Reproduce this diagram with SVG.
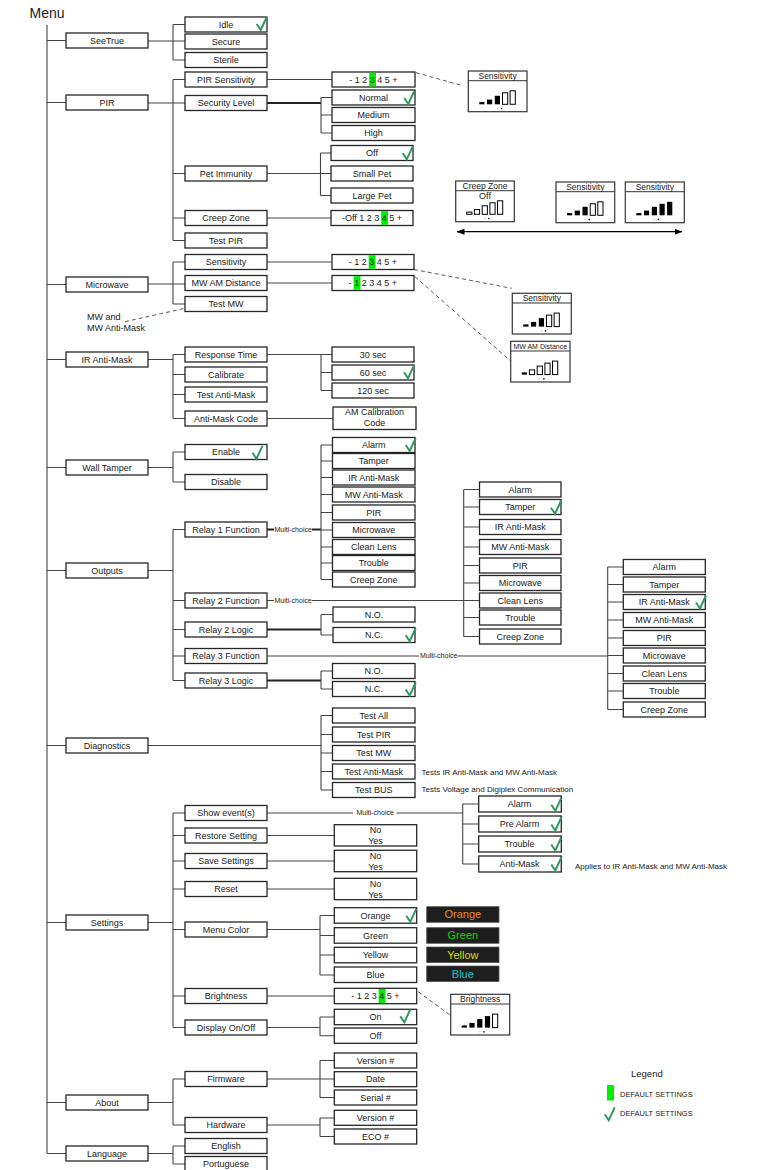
<svg xmlns="http://www.w3.org/2000/svg" xmlns:xlink="http://www.w3.org/1999/xlink" width="758" height="1170" viewBox="0 0 758 1170">
<style>
.b{fill:#fff;stroke:#262626;stroke-width:1.3}
.t{font-family:"Liberation Sans",Arial,sans-serif;font-size:9px;fill:#222;text-anchor:middle}
.s{font-family:"Liberation Sans",Arial,sans-serif;fill:#222}
.c{stroke:#444;stroke-width:1.1;fill:none}
.k{stroke:#222;stroke-width:1.8;fill:none}
.d{stroke:#333;stroke-width:0.8;fill:none;stroke-dasharray:4 3}
.ck{stroke:#2e9a5c;stroke-width:2;fill:none;stroke-linejoin:miter}
.hl{fill:#00ee00}
.pb{fill:#fff;stroke:#333;stroke-width:1.2}
.pl{stroke:#333;stroke-width:1}
.pt{font-family:"Liberation Sans",Arial,sans-serif;font-size:8.5px;fill:#222;text-anchor:middle}
.pts{font-family:"Liberation Sans",Arial,sans-serif;font-size:7px;fill:#222;text-anchor:middle}
.f{fill:#000}
.o{fill:#fff;stroke:#000;stroke-width:1}
.dg{fill:#bbb}
.dk{fill:#000}
.sw{fill:#1e1e1e;stroke:#555;stroke-width:0.8}
.swt{font-family:"Liberation Sans",Arial,sans-serif;font-size:11px;text-anchor:middle}
</style>
<defs>
<path id="chk" d="M0,7 L4,13 L10,0"/>
<marker id="ah" markerWidth="8" markerHeight="6" refX="7.5" refY="3" orient="auto-start-reverse" markerUnits="userSpaceOnUse">
<path d="M0,0 L8,3 L0,6 z" fill="#000"/>
</marker>
</defs>

<text class="s" x="29.5" y="18" font-size="14">Menu</text>

<g id="connectors">
<path class="c" d="M47,25 V1153.5 M47,40.5 H66 M47,102.5 H66 M47,284.5 H66 M47,359.5 H66 M47,467.5 H66 M47,570.5 H66 M47,745.5 H66 M47,922.5 H66 M47,1102.5 H66 M47,1153.5 H66"/>
<path class="c" d="M148,41 H185 M173,24.5 V60 M173,24.5 H185 M173,60 H185"/>
<path class="c" d="M148,103 H185 M173,79.5 V240.5 M173,79.5 H185 M173,173.5 H185 M173,218 H185 M173,240.5 H185"/>
<path class="c" d="M148,284 H185 M173,262 V304 M173,262 H185 M173,304 H185"/>
<path class="c" d="M148,359.5 H173 M173,354.5 V418.5 M173,354.5 H185 M173,374.5 H185 M173,394.5 H185 M173,418.5 H185"/>
<path class="c" d="M148,467.5 H173 M173,452 V482 M173,452 H185 M173,482 H185"/>
<path class="c" d="M148,570.5 H173 M173,529.5 V680.5 M173,529.5 H185 M173,600.5 H185 M173,629.5 H185 M173,656 H185 M173,680.5 H185"/>
<path class="c" d="M148,745.5 H321 M321,715.5 V790 M321,715.5 H332.5 M321,734.5 H332.5 M321,753 H332.5 M321,771.5 H332.5 M321,790 H332.5"/>
<path class="c" d="M148,922.5 H173 M173,813 V1027.5 M173,813 H185 M173,835.5 H185 M173,861 H185 M173,889 H185 M173,929.5 H185 M173,996 H185 M173,1027.5 H185"/>
<path class="c" d="M148,1102.5 H173 M173,1079 V1125 M173,1079 H185 M173,1125 H185"/>
<path class="c" d="M148,1153.5 H173 M173,1146 V1164 M173,1146 H185 M173,1164 H185"/>
<path class="c" d="M267,79.5 H332"/>
<path class="k" d="M267,103 H321"/>
<path class="c" d="M321,97.5 V133 M321,97.5 H332 M321,115 H332 M321,133 H332"/>
<path class="c" d="M267,173.5 H331 M320.5,153 V195.5 M320.5,153 H331 M320.5,195.5 H331"/>
<path class="c" d="M267,218 H331 M267,262 H332 M267,283 H332"/>
<path class="c" d="M267,354.5 H321 M321,354.5 V390.5 M321,372.5 H332 M321,390.5 H332 M321,354.5 H332"/>
<path class="c" d="M267,418.5 H333"/>
<path class="k" d="M267,529.5 H274 M312,529.5 H321"/>
<path class="c" d="M321,445 V579.5 M321,445 H332.5 M321,461 H332.5 M321,477.5 H332.5 M321,494.5 H332.5 M321,512.5 H332.5 M321,530 H332.5 M321,547 H332.5 M321,563 H332.5 M321,579.5 H332.5"/>
<path class="c" d="M267,600.5 H274 M312,600.5 H463.7 M463.7,489.5 V636.5 M463.7,489.5 H479.5 M463.7,507 H479.5 M463.7,527 H479.5 M463.7,547 H479.5 M463.7,565.5 H479.5 M463.7,583 H479.5 M463.7,600.5 H479.5 M463.7,617.5 H479.5 M463.7,636.5 H479.5"/>
<path class="k" d="M267,629.5 H321"/>
<path class="c" d="M321,614.5 V635 M321,614.5 H333 M321,635 H333"/>
<path class="c" d="M267,656 H419 M457.5,656 H607.7 M607.7,567 V709.5 M607.7,567 H623.3 M607.7,584.5 H623.3 M607.7,602 H623.3 M607.7,620 H623.3 M607.7,638 H623.3 M607.7,655.5 H623.3 M607.7,673.5 H623.3 M607.7,691 H623.3 M607.7,709.5 H623.3"/>
<path class="k" d="M267,680.5 H321"/>
<path class="c" d="M321,671 V689 M321,671 H332.5 M321,689 H332.5"/>
<path class="c" d="M267,813 H353 M396.5,813 H462.7 M462.7,804 V864 M462.7,804 H478.7 M462.7,824 H478.7 M462.7,844 H478.7 M462.7,864 H478.7"/>
<path class="c" d="M267,835.5 H334.3 M267,861 H334.3 M267,889 H334.3"/>
<path class="c" d="M267,929.5 H320 M320,915.5 V975 M320,915.5 H334.3 M320,935.5 H334.3 M320,955 H334.3 M320,975 H334.3"/>
<path class="c" d="M267,996 H334.3"/>
<path class="c" d="M267,1027.5 H320 M320,1017 V1035.7 M320,1017 H334.3 M320,1035.7 H334.3"/>
<path class="c" d="M267,1079 H334.3 M320,1060.5 V1097.5 M320,1060.5 H334.3 M320,1097.5 H334.3"/>
<path class="c" d="M267,1125 H320 M320,1118 V1136.5 M320,1118 H334.3 M320,1136.5 H334.3"/>
<text class="s" x="274.5" y="531.5" font-size="7">Multi-choice</text>
<text class="s" x="274.5" y="602.5" font-size="7">Multi-choice</text>
<text class="s" x="420" y="658" font-size="7">Multi-choice</text>
<text class="s" x="356.5" y="815" font-size="7">Multi-choice</text>
<path class="d" d="M416,72.7 L462.7,85.7"/>
<path class="d" d="M414,269.5 L511.7,288.3"/>
<path class="d" d="M415,276.7 L510.3,360.7"/>
<path class="d" d="M125,321.7 L184,308.5"/>
<path class="d" d="M418.3,991.7 L450,1015"/>
<path d="M457,231.7 H682" stroke="#000" stroke-width="1.2" marker-start="url(#ah)" marker-end="url(#ah)"/>
</g>

<g id="n-seetrue"><rect class="b" x="66" y="33" width="82" height="15"/><text class="t" x="107" y="43.7">SeeTrue</text></g>
<g id="n-pir"><rect class="b" x="66" y="95" width="82" height="15"/><text class="t" x="107" y="105.7">PIR</text></g>
<g id="n-microwave"><rect class="b" x="66" y="277" width="82" height="15"/><text class="t" x="107" y="287.7">Microwave</text></g>
<g id="n-iram"><rect class="b" x="66" y="352" width="82" height="15"/><text class="t" x="107" y="362.7">IR Anti-Mask</text></g>
<g id="n-walltamper"><rect class="b" x="66" y="460" width="82" height="15"/><text class="t" x="107" y="470.7">Wall Tamper</text></g>
<g id="n-outputs"><rect class="b" x="66" y="563" width="82" height="15"/><text class="t" x="107" y="573.7">Outputs</text></g>
<g id="n-diagnostics"><rect class="b" x="66" y="738" width="82" height="15"/><text class="t" x="107" y="748.7">Diagnostics</text></g>
<g id="n-settings"><rect class="b" x="66" y="915" width="82" height="15"/><text class="t" x="107" y="925.7">Settings</text></g>
<g id="n-about"><rect class="b" x="66" y="1095" width="82" height="15"/><text class="t" x="107" y="1105.7">About</text></g>
<g id="n-language"><rect class="b" x="66" y="1146" width="82" height="15"/><text class="t" x="107" y="1156.7">Language</text></g>

<g id="n-idle"><rect class="b" x="185" y="17" width="82" height="15"/><text class="t" x="226" y="27.7">Idle</text></g>
<g id="n-secure"><rect class="b" x="185" y="34" width="82" height="15"/><text class="t" x="226" y="44.7">Secure</text></g>
<g id="n-sterile"><rect class="b" x="185" y="52.5" width="82" height="15"/><text class="t" x="226" y="63.2">Sterile</text></g>
<g id="n-pirsens"><rect class="b" x="185" y="72" width="82" height="15"/><text class="t" x="226" y="82.7">PIR Sensitivity</text></g>
<g id="n-seclevel"><rect class="b" x="185" y="95.5" width="82" height="15"/><text class="t" x="226" y="106.2">Security Level</text></g>
<g id="n-petimm"><rect class="b" x="185" y="166" width="82" height="15"/><text class="t" x="226" y="176.7">Pet Immunity</text></g>
<g id="n-creepzone"><rect class="b" x="185" y="210.5" width="82" height="15"/><text class="t" x="226" y="221.2">Creep Zone</text></g>
<g id="n-testpir"><rect class="b" x="185" y="233" width="82" height="15"/><text class="t" x="226" y="243.7">Test PIR</text></g>
<g id="n-mwsens"><rect class="b" x="185" y="254.5" width="82" height="15"/><text class="t" x="226" y="265.2">Sensitivity</text></g>
<g id="n-mwam"><rect class="b" x="185" y="275.5" width="82" height="15"/><text class="t" x="226" y="286.2">MW AM Distance</text></g>
<g id="n-testmw"><rect class="b" x="185" y="296.5" width="82" height="15"/><text class="t" x="226" y="307.2">Test MW</text></g>
<g id="n-resptime"><rect class="b" x="185" y="347" width="82" height="15"/><text class="t" x="226" y="357.7">Response Time</text></g>
<g id="n-calibrate"><rect class="b" x="185" y="367" width="82" height="15"/><text class="t" x="226" y="377.7">Calibrate</text></g>
<g id="n-testam"><rect class="b" x="185" y="387" width="82" height="15"/><text class="t" x="226" y="397.7">Test Anti-Mask</text></g>
<g id="n-amcode"><rect class="b" x="185" y="411" width="82" height="15"/><text class="t" x="226" y="421.7">Anti-Mask Code</text></g>
<g id="n-enable"><rect class="b" x="185" y="444.5" width="82" height="15"/><text class="t" x="226" y="455.2">Enable</text></g>
<g id="n-disable"><rect class="b" x="185" y="474.5" width="82" height="15"/><text class="t" x="226" y="485.2">Disable</text></g>
<g id="n-r1f"><rect class="b" x="185" y="522" width="82" height="15"/><text class="t" x="226" y="532.7">Relay 1 Function</text></g>
<g id="n-r2f"><rect class="b" x="185" y="593" width="82" height="15"/><text class="t" x="226" y="603.7">Relay 2 Function</text></g>
<g id="n-r2l"><rect class="b" x="185" y="622" width="82" height="15"/><text class="t" x="226" y="632.7">Relay 2 Logic</text></g>
<g id="n-r3f"><rect class="b" x="185" y="648.5" width="82" height="15"/><text class="t" x="226" y="659.2">Relay 3 Function</text></g>
<g id="n-r3l"><rect class="b" x="185" y="673" width="82" height="15"/><text class="t" x="226" y="683.7">Relay 3 Logic</text></g>
<g id="n-showev"><rect class="b" x="185" y="805.5" width="82" height="15"/><text class="t" x="226" y="816.2">Show event(s)</text></g>
<g id="n-restore"><rect class="b" x="185" y="828" width="82" height="15"/><text class="t" x="226" y="838.7">Restore Setting</text></g>
<g id="n-save"><rect class="b" x="185" y="853.5" width="82" height="15"/><text class="t" x="226" y="864.2">Save Settings</text></g>
<g id="n-reset"><rect class="b" x="185" y="881.5" width="82" height="15"/><text class="t" x="226" y="892.2">Reset</text></g>
<g id="n-menucolor"><rect class="b" x="185" y="922" width="82" height="15"/><text class="t" x="226" y="932.7">Menu Color</text></g>
<g id="n-brightness"><rect class="b" x="185" y="988.5" width="82" height="15"/><text class="t" x="226" y="999.2">Brightness</text></g>
<g id="n-display"><rect class="b" x="185" y="1020" width="82" height="15"/><text class="t" x="226" y="1030.7">Display On/Off</text></g>
<g id="n-firmware"><rect class="b" x="185" y="1071.5" width="82" height="15"/><text class="t" x="226" y="1082.2">Firmware</text></g>
<g id="n-hardware"><rect class="b" x="185" y="1117.5" width="82" height="15"/><text class="t" x="226" y="1128.2">Hardware</text></g>
<g id="n-english"><rect class="b" x="185" y="1138.5" width="82" height="15"/><text class="t" x="226" y="1149.2">English</text></g>
<g id="n-portuguese"><rect class="b" x="185" y="1156.5" width="82" height="15"/><text class="t" x="226" y="1167.2">Portuguese</text></g>

<g id="n-pirsens-val"><rect class="b" x="332" y="72" width="83" height="15"/><rect class="hl" x="369.2" y="72.7" width="6.8" height="13.6"/><text class="t" x="373.5" y="82.7">- 1 2 3 4 5 +</text></g>
<g id="n-normal"><rect class="b" x="332" y="90" width="83" height="15"/><text class="t" x="373.5" y="100.7">Normal</text></g>
<g id="n-medium"><rect class="b" x="332" y="107.5" width="83" height="15"/><text class="t" x="373.5" y="118.2">Medium</text></g>
<g id="n-high"><rect class="b" x="332" y="125.5" width="83" height="15"/><text class="t" x="373.5" y="136.2">High</text></g>
<g id="n-petoff"><rect class="b" x="331" y="145.5" width="82" height="15"/><text class="t" x="372" y="156.2">Off</text></g>
<g id="n-smallpet"><rect class="b" x="331" y="166" width="82" height="15"/><text class="t" x="372" y="176.7">Small Pet</text></g>
<g id="n-largepet"><rect class="b" x="331" y="188" width="82" height="15"/><text class="t" x="372" y="198.7">Large Pet</text></g>
<g id="n-creep-val"><rect class="b" x="331" y="210.5" width="82" height="15"/><rect class="hl" x="381.2" y="211.2" width="6.8" height="13.6"/><text class="t" x="372" y="221.2">-Off 1 2 3 4 5 +</text></g>
<g id="n-mwsens-val"><rect class="b" x="332" y="254.5" width="82" height="15"/><rect class="hl" x="368.7" y="255.2" width="6.8" height="13.6"/><text class="t" x="373" y="265.2">- 1 2 3 4 5 +</text></g>
<g id="n-mwam-val"><rect class="b" x="332" y="275.5" width="82" height="15"/><rect class="hl" x="353.7" y="276.2" width="6.8" height="13.6"/><text class="t" x="373" y="286.2">- 1 2 3 4 5 +</text></g>
<text class="s" x="87" y="320" font-size="9">MW and</text>
<text class="s" x="87" y="331" font-size="9">MW Anti-Mask</text>
<g id="n-30s"><rect class="b" x="332" y="347" width="82" height="15"/><text class="t" x="373" y="357.7">30 sec</text></g>
<g id="n-60s"><rect class="b" x="332" y="365" width="82" height="15"/><text class="t" x="373" y="375.7">60 sec</text></g>
<g id="n-120s"><rect class="b" x="332" y="383" width="82" height="15"/><text class="t" x="373" y="393.7">120 sec</text></g>
<g id="n-amcal"><rect class="b" x="333" y="407" width="83" height="22.5"/><text class="t" x="374.5" y="415.3">AM Calibration</text><text class="t" x="374.5" y="426">Code</text></g>
<g id="n-r1-alarm"><rect class="b" x="332.5" y="437.5" width="82.5" height="15"/><text class="t" x="373.75" y="448.2">Alarm</text></g>
<g id="n-r1-tamper"><rect class="b" x="332.5" y="453.5" width="82.5" height="15"/><text class="t" x="373.75" y="464.2">Tamper</text></g>
<g id="n-r1-iram"><rect class="b" x="332.5" y="470" width="82.5" height="15"/><text class="t" x="373.75" y="480.7">IR Anti-Mask</text></g>
<g id="n-r1-mwam"><rect class="b" x="332.5" y="487" width="82.5" height="15"/><text class="t" x="373.75" y="497.7">MW Anti-Mask</text></g>
<g id="n-r1-pir"><rect class="b" x="332.5" y="505" width="82.5" height="15"/><text class="t" x="373.75" y="515.7">PIR</text></g>
<g id="n-r1-mw"><rect class="b" x="332.5" y="522.5" width="82.5" height="15"/><text class="t" x="373.75" y="533.2">Microwave</text></g>
<g id="n-r1-clean"><rect class="b" x="332.5" y="539.5" width="82.5" height="15"/><text class="t" x="373.75" y="550.2">Clean Lens</text></g>
<g id="n-r1-trouble"><rect class="b" x="332.5" y="555.5" width="82.5" height="15"/><text class="t" x="373.75" y="566.2">Trouble</text></g>
<g id="n-r1-creep"><rect class="b" x="332.5" y="572" width="82.5" height="15"/><text class="t" x="373.75" y="582.7">Creep Zone</text></g>
<g id="n-r2-alarm"><rect class="b" x="479.5" y="482" width="81.5" height="15"/><text class="t" x="520.25" y="492.7">Alarm</text></g>
<g id="n-r2-tamper"><rect class="b" x="479.5" y="499.5" width="81.5" height="15"/><text class="t" x="520.25" y="510.2">Tamper</text></g>
<g id="n-r2-iram"><rect class="b" x="479.5" y="519.5" width="81.5" height="15"/><text class="t" x="520.25" y="530.2">IR Anti-Mask</text></g>
<g id="n-r2-mwam"><rect class="b" x="479.5" y="539.5" width="81.5" height="15"/><text class="t" x="520.25" y="550.2">MW Anti-Mask</text></g>
<g id="n-r2-pir"><rect class="b" x="479.5" y="558" width="81.5" height="15"/><text class="t" x="520.25" y="568.7">PIR</text></g>
<g id="n-r2-mw"><rect class="b" x="479.5" y="575.5" width="81.5" height="15"/><text class="t" x="520.25" y="586.2">Microwave</text></g>
<g id="n-r2-clean"><rect class="b" x="479.5" y="593" width="81.5" height="15"/><text class="t" x="520.25" y="603.7">Clean Lens</text></g>
<g id="n-r2-trouble"><rect class="b" x="479.5" y="610" width="81.5" height="15"/><text class="t" x="520.25" y="620.7">Trouble</text></g>
<g id="n-r2-creep"><rect class="b" x="479.5" y="629" width="81.5" height="15"/><text class="t" x="520.25" y="639.7">Creep Zone</text></g>
<g id="n-r2-no"><rect class="b" x="333" y="607" width="82" height="15"/><text class="t" x="374" y="617.7">N.O.</text></g>
<g id="n-r2-nc"><rect class="b" x="333" y="627.5" width="82" height="15"/><text class="t" x="374" y="638.2">N.C.</text></g>
<g id="n-r3-alarm"><rect class="b" x="623.3" y="559.5" width="82" height="15"/><text class="t" x="664.3" y="570.2">Alarm</text></g>
<g id="n-r3-tamper"><rect class="b" x="623.3" y="577" width="82" height="15"/><text class="t" x="664.3" y="587.7">Tamper</text></g>
<g id="n-r3-iram"><rect class="b" x="623.3" y="594.5" width="82" height="15"/><text class="t" x="664.3" y="605.2">IR Anti-Mask</text></g>
<g id="n-r3-mwam"><rect class="b" x="623.3" y="612.5" width="82" height="15"/><text class="t" x="664.3" y="623.2">MW Anti-Mask</text></g>
<g id="n-r3-pir"><rect class="b" x="623.3" y="630.5" width="82" height="15"/><text class="t" x="664.3" y="641.2">PIR</text></g>
<g id="n-r3-mw"><rect class="b" x="623.3" y="648" width="82" height="15"/><text class="t" x="664.3" y="658.7">Microwave</text></g>
<g id="n-r3-clean"><rect class="b" x="623.3" y="666" width="82" height="15"/><text class="t" x="664.3" y="676.7">Clean Lens</text></g>
<g id="n-r3-trouble"><rect class="b" x="623.3" y="683.5" width="82" height="15"/><text class="t" x="664.3" y="694.2">Trouble</text></g>
<g id="n-r3-creep"><rect class="b" x="623.3" y="702" width="82" height="15"/><text class="t" x="664.3" y="712.7">Creep Zone</text></g>
<g id="n-r3-no"><rect class="b" x="332.5" y="663.5" width="82.5" height="15"/><text class="t" x="373.75" y="674.2">N.O.</text></g>
<g id="n-r3-nc"><rect class="b" x="332.5" y="681.5" width="82.5" height="15"/><text class="t" x="373.75" y="692.2">N.C.</text></g>
<g id="n-testall"><rect class="b" x="332.5" y="708" width="82.5" height="15"/><text class="t" x="373.75" y="718.7">Test All</text></g>
<g id="n-dtestpir"><rect class="b" x="332.5" y="727" width="82.5" height="15"/><text class="t" x="373.75" y="737.7">Test PIR</text></g>
<g id="n-dtestmw"><rect class="b" x="332.5" y="745.5" width="82.5" height="15"/><text class="t" x="373.75" y="756.2">Test MW</text></g>
<g id="n-dtestam"><rect class="b" x="332.5" y="764" width="82.5" height="15"/><text class="t" x="373.75" y="774.7">Test Anti-Mask</text></g>
<g id="n-dtestbus"><rect class="b" x="332.5" y="782.5" width="82.5" height="15"/><text class="t" x="373.75" y="793.2">Test BUS</text></g>
<text class="s" x="421.5" y="774.5" font-size="8">Tests IR Anti-Mask and MW Anti-Mask</text>
<text class="s" x="421.5" y="792" font-size="8">Tests Voltage and Digiplex Communication</text>
<g id="n-ev-alarm"><rect class="b" x="478.7" y="796" width="82.6" height="16"/><text class="t" x="519.5" y="807.2">Alarm</text></g>
<g id="n-ev-prealarm"><rect class="b" x="478.7" y="816" width="82.6" height="16"/><text class="t" x="519.5" y="827.2">Pre Alarm</text></g>
<g id="n-ev-trouble"><rect class="b" x="478.7" y="836" width="82.6" height="16"/><text class="t" x="519.5" y="847.2">Trouble</text></g>
<g id="n-ev-am"><rect class="b" x="478.7" y="856" width="82.6" height="16"/><text class="t" x="519.5" y="867.2">Anti-Mask</text></g>
<text class="s" x="575" y="869" font-size="8">Applies to IR Anti-Mask and MW Anti-Mask</text>
<g id="n-restore-val"><rect class="b" x="334.3" y="824.7" width="82.4" height="21.3"/><text class="t" x="375.5" y="833.2">No</text><text class="t" x="375.5" y="844.3">Yes</text></g>
<g id="n-save-val"><rect class="b" x="334.3" y="850.3" width="82.4" height="21.4"/><text class="t" x="375.5" y="858.8">No</text><text class="t" x="375.5" y="869.9">Yes</text></g>
<g id="n-reset-val"><rect class="b" x="334.3" y="878.3" width="82.4" height="21.4"/><text class="t" x="375.5" y="886.8">No</text><text class="t" x="375.5" y="897.9">Yes</text></g>
<g id="n-orange"><rect class="b" x="334.3" y="907.7" width="82.4" height="15.5"/><text class="t" x="375.5" y="918.6">Orange</text></g>
<g id="n-green"><rect class="b" x="334.3" y="927.7" width="82.4" height="15.5"/><text class="t" x="375.5" y="938.6">Green</text></g>
<g id="n-yellow"><rect class="b" x="334.3" y="947.3" width="82.4" height="15.5"/><text class="t" x="375.5" y="958.2">Yellow</text></g>
<g id="n-blue"><rect class="b" x="334.3" y="967" width="82.4" height="15.5"/><text class="t" x="375.5" y="977.9">Blue</text></g>
<g id="sw-orange"><rect class="sw" x="426.7" y="906.7" width="72.3" height="15.6"/><text class="swt" x="462.85" y="918.4" fill="#e8900a">Orange</text></g>
<g id="sw-green"><rect class="sw" x="426.7" y="927.7" width="72.3" height="15.6"/><text class="swt" x="462.85" y="939.4" fill="#00dd00">Green</text></g>
<g id="sw-yellow"><rect class="sw" x="426.7" y="947" width="72.3" height="15.6"/><text class="swt" x="462.85" y="958.7" fill="#dede00">Yellow</text></g>
<g id="sw-blue"><rect class="sw" x="426.7" y="966" width="72.3" height="15.6"/><text class="swt" x="462.85" y="977.7" fill="#19c2c9">Blue</text></g>
<g id="n-bright-val"><rect class="b" x="334.3" y="988.3" width="82.4" height="15.4"/><rect class="hl" x="378.7" y="989" width="6.8" height="14"/><text class="t" x="375.5" y="999.2">- 1 2 3 4 5 +</text></g>
<g id="n-on"><rect class="b" x="334.3" y="1009.3" width="82.4" height="15.4"/><text class="t" x="375.5" y="1020.2">On</text></g>
<g id="n-off"><rect class="b" x="334.3" y="1028" width="82.4" height="15.3"/><text class="t" x="375.5" y="1038.9">Off</text></g>
<g id="n-fw-ver"><rect class="b" x="334.3" y="1053" width="82.4" height="15"/><text class="t" x="375.5" y="1063.7">Version #</text></g>
<g id="n-fw-date"><rect class="b" x="334.3" y="1071.7" width="82.4" height="15"/><text class="t" x="375.5" y="1082.4">Date</text></g>
<g id="n-fw-serial"><rect class="b" x="334.3" y="1090" width="82.4" height="15"/><text class="t" x="375.5" y="1100.7">Serial #</text></g>
<g id="n-hw-ver"><rect class="b" x="334.3" y="1110.3" width="82.4" height="15"/><text class="t" x="375.5" y="1121">Version #</text></g>
<g id="n-hw-eco"><rect class="b" x="334.3" y="1129" width="82.4" height="15"/><text class="t" x="375.5" y="1139.7">ECO #</text></g>

<g id="pop-pirsens" transform="translate(468.3,71)">
<rect class="pb" width="58.7" height="40.7"/><line class="pl" x1="0" y1="9.7" x2="58.7" y2="9.7"/><text class="pt" x="29.3" y="8">Sensitivity</text>
<rect class="f" x="11" y="31.1" width="5.2" height="2.2"/><rect class="f" x="18.7" y="28.6" width="5.2" height="4.7"/><rect class="f" x="26.5" y="24.8" width="5.2" height="8.5"/><rect class="o" x="34.2" y="21.8" width="5.2" height="11.5"/><rect class="o" x="41.8" y="19.8" width="5.2" height="13.5"/>
<rect class="dg" x="28.5" y="36.8" width="1.2" height="1.2"/><rect class="dk" x="32.5" y="36.8" width="1.4" height="1.4"/>
</g>
<g id="pop-creep" transform="translate(455.7,181)">
<rect class="pb" width="58.6" height="40.7"/><line class="pl" x1="0" y1="9.7" x2="58.6" y2="9.7"/><text class="pt" x="29.3" y="8">Creep Zone</text><text class="t" x="29.3" y="18">Off</text>
<rect class="o" x="11" y="31.1" width="5.2" height="2.2"/><rect class="o" x="18.7" y="28.6" width="5.2" height="4.7"/><rect class="o" x="26.5" y="24.8" width="5.2" height="8.5"/><rect class="o" x="34.2" y="21.8" width="5.2" height="11.5"/><rect class="o" x="41.8" y="19.8" width="5.2" height="13.5"/>
<rect class="dg" x="28.5" y="36.8" width="1.2" height="1.2"/><rect class="dk" x="32.5" y="36.8" width="1.4" height="1.4"/>
</g>
<g id="pop-sens2" transform="translate(556,182)">
<rect class="pb" width="58.7" height="40.7"/><line class="pl" x1="0" y1="9.7" x2="58.7" y2="9.7"/><text class="pt" x="29.3" y="8">Sensitivity</text>
<rect class="f" x="11" y="31.1" width="5.2" height="2.2"/><rect class="f" x="18.7" y="28.6" width="5.2" height="4.7"/><rect class="f" x="26.5" y="24.8" width="5.2" height="8.5"/><rect class="o" x="34.2" y="21.8" width="5.2" height="11.5"/><rect class="o" x="41.8" y="19.8" width="5.2" height="13.5"/>
<rect class="dg" x="28.5" y="36.8" width="1.2" height="1.2"/><rect class="dk" x="32.5" y="36.8" width="1.4" height="1.4"/>
</g>
<g id="pop-sens3" transform="translate(625.3,182)">
<rect class="pb" width="59" height="40.7"/><line class="pl" x1="0" y1="9.7" x2="59" y2="9.7"/><text class="pt" x="29.5" y="8">Sensitivity</text>
<rect class="f" x="11" y="31.1" width="5.2" height="2.2"/><rect class="f" x="18.7" y="28.6" width="5.2" height="4.7"/><rect class="f" x="26.5" y="24.8" width="5.2" height="8.5"/><rect class="f" x="34.2" y="21.8" width="5.2" height="11.5"/><rect class="f" x="41.8" y="19.8" width="5.2" height="13.5"/>
<rect class="dg" x="28.5" y="36.8" width="1.2" height="1.2"/><rect class="dk" x="32.5" y="36.8" width="1.4" height="1.4"/>
</g>
<g id="pop-mwsens" transform="translate(512.3,293.3)">
<rect class="pb" width="59" height="40.7"/><line class="pl" x1="0" y1="9.7" x2="59" y2="9.7"/><text class="pt" x="29.5" y="8">Sensitivity</text>
<rect class="f" x="11" y="31.1" width="5.2" height="2.2"/><rect class="f" x="18.7" y="28.6" width="5.2" height="4.7"/><rect class="f" x="26.5" y="24.8" width="5.2" height="8.5"/><rect class="o" x="34.2" y="21.8" width="5.2" height="11.5"/><rect class="o" x="41.8" y="19.8" width="5.2" height="13.5"/>
<rect class="dg" x="28.5" y="36.8" width="1.2" height="1.2"/><rect class="dk" x="32.5" y="36.8" width="1.4" height="1.4"/>
</g>
<g id="pop-mwam" transform="translate(510.7,341.3)">
<rect class="pb" width="59.3" height="40.7"/><line class="pl" x1="0" y1="9.7" x2="59.3" y2="9.7"/><text class="pts" x="29.6" y="7.6">MW AM Distance</text>
<rect class="f" x="11" y="31.1" width="5.2" height="2.2"/><rect class="o" x="18.7" y="28.6" width="5.2" height="4.7"/><rect class="o" x="26.5" y="24.8" width="5.2" height="8.5"/><rect class="o" x="34.2" y="21.8" width="5.2" height="11.5"/><rect class="o" x="41.8" y="19.8" width="5.2" height="13.5"/>
<rect class="dg" x="28.5" y="36.8" width="1.2" height="1.2"/><rect class="dk" x="32.5" y="36.8" width="1.4" height="1.4"/>
</g>
<g id="pop-bright" transform="translate(450.7,994.3)">
<rect class="pb" width="59" height="40.7"/><line class="pl" x1="0" y1="9.7" x2="59" y2="9.7"/><text class="pt" x="29.5" y="8">Brightness</text>
<rect class="f" x="11" y="31.1" width="5.2" height="2.2"/><rect class="f" x="18.7" y="28.6" width="5.2" height="4.7"/><rect class="f" x="26.5" y="24.8" width="5.2" height="8.5"/><rect class="f" x="34.2" y="21.8" width="5.2" height="11.5"/><rect class="o" x="41.8" y="19.8" width="5.2" height="13.5"/>
<rect class="dg" x="28.5" y="36.8" width="1.2" height="1.2"/><rect class="dk" x="32.5" y="36.8" width="1.4" height="1.4"/>
</g>

<g id="checks">
<use xlink:href="#chk" href="#chk" class="ck" x="256.7" y="17"/>
<use xlink:href="#chk" href="#chk" class="ck" x="404.3" y="91"/>
<use xlink:href="#chk" href="#chk" class="ck" x="402.8" y="146.3"/>
<use xlink:href="#chk" href="#chk" class="ck" x="404" y="365.3"/>
<use xlink:href="#chk" href="#chk" class="ck" x="252.5" y="445.8"/>
<use xlink:href="#chk" href="#chk" class="ck" x="405.7" y="438"/>
<use xlink:href="#chk" href="#chk" class="ck" x="551" y="500.8"/>
<use xlink:href="#chk" href="#chk" class="ck" x="696" y="595.5"/>
<use xlink:href="#chk" href="#chk" class="ck" x="405.7" y="628.2"/>
<use xlink:href="#chk" href="#chk" class="ck" x="405.7" y="682.5"/>
<use xlink:href="#chk" href="#chk" class="ck" x="551.3" y="797.8"/>
<use xlink:href="#chk" href="#chk" class="ck" x="551.3" y="817.5"/>
<use xlink:href="#chk" href="#chk" class="ck" x="551.3" y="837.5"/>
<use xlink:href="#chk" href="#chk" class="ck" x="551.3" y="857.5"/>
<use xlink:href="#chk" href="#chk" class="ck" x="406.3" y="908.8"/>
<use xlink:href="#chk" href="#chk" class="ck" x="400.3" y="1009.3"/>
</g>

<g id="legend">
<text class="s" x="631" y="1076.5" font-size="9.5">Legend</text>
<rect class="hl" x="607" y="1085" width="7" height="15.5"/>
<text class="s" x="620" y="1096.5" font-size="7.5" fill="#555">DEFAULT SETTINGS</text>
<use xlink:href="#chk" href="#chk" class="ck" x="604.7" y="1107.3"/>
<text class="s" x="620" y="1116" font-size="7.5" fill="#555">DEFAULT SETTINGS</text>
</g>
</svg>
